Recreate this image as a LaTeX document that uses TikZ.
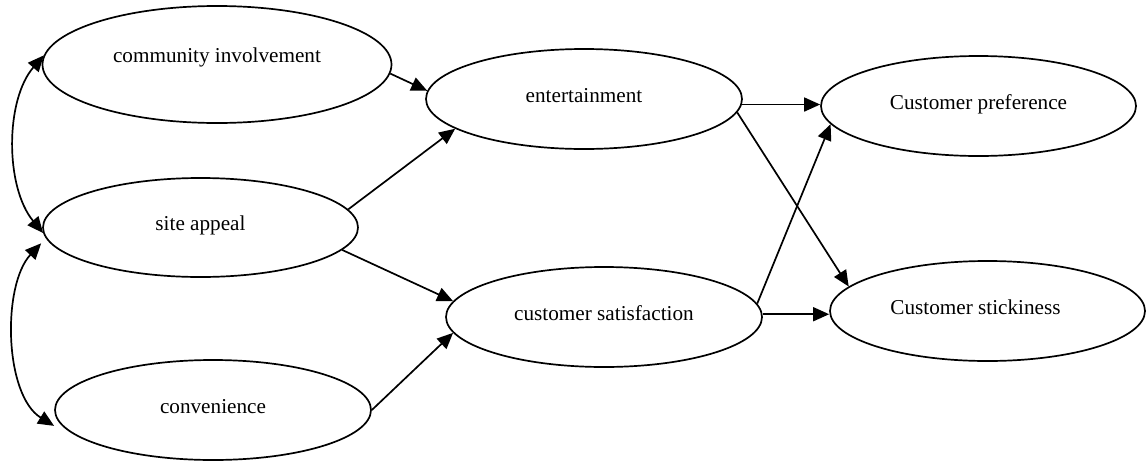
\documentclass[tikz,border=0pt]{standalone}
\usepackage{fontspec}
\setmainfont{Liberation Serif}
\usetikzlibrary{arrows.meta,shapes.geometric}
\begin{document}
\begin{tikzpicture}[x=1pt,y=-1pt,
  construct/.style={draw, line width=1.7pt, ellipse, inner sep=0pt,
    minimum width=316pt, minimum height=100pt,
    font=\fontsize{21.2}{25}\selectfont, text height=12pt, text depth=6pt},
  link/.style={line width=1.7pt, -{Triangle[length=16pt,width=14pt]}},
  cov/.style={line width=1.7pt,
    {Triangle[length=16pt,width=14pt]}-{Triangle[length=16pt,width=14pt]}}
]
\useasboundingbox (0,0) rectangle (1146,461);

% constructs
\node[construct, minimum width=349pt, minimum height=117pt,
      text height=6pt, text depth=10pt] (comm) at (217,64.5) {community involvement};
\node[construct, minimum width=315pt, minimum height=99pt] (site) at (200.5,227.5) {site appeal};
\node[construct] (conv) at (213,410) {convenience};
\node[construct] (ent) at (584,99) {entertainment};
\node[construct] (sat) at (604,317) {customer satisfaction};
\node[construct, minimum width=315pt] (pref) at (978.5,106) {Customer preference};
\node[construct, minimum width=315pt] (stick) at (987.5,311) {Customer stickiness\hspace*{24pt}};

% correlations between the exogenous constructs
\draw[cov] (comm.177.5) .. controls (5,100) and (5,187) .. (site.182);
\draw[cov] ([xshift=-9pt]site.186) .. controls (2,285) and (4,395) .. ([xshift=-8pt]conv.186);

% structural paths
\draw[link] (comm.-3.8) -- (ent.177.4);
\draw[link] (site.7.5) -- (ent.193);
\draw[link] (site.-9.4) -- (sat.174);
\draw[link] (conv.0.7) -- (sat.186);
\draw[link] (ent.-2.5) -- (ent.-2.5 -| pref.west);
\draw[link] (ent.-5.8) -- (stick.170.6);
\draw[link] (sat.5.4) -- (pref.187);
\draw[link] (sat.1.5) -- (sat.1.5 -| stick.west);
\end{tikzpicture}
\end{document}
